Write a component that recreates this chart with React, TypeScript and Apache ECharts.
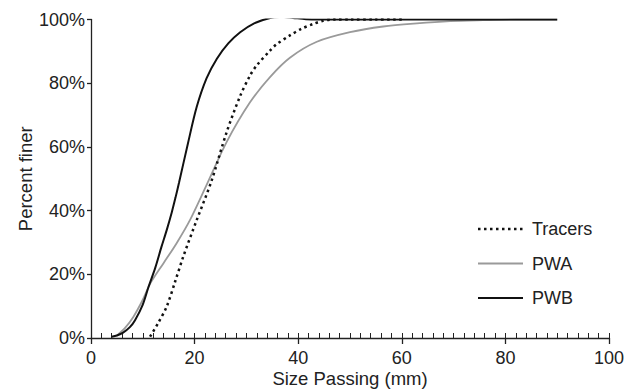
import React, { useEffect, useRef } from "react";
import * as echarts from "echarts";

const xTicks = [0, 20, 40, 60, 80, 100];
const yTickLabels = ["0%", "20%", "40%", "60%", "80%", "100%"];
const legendNames = ["Tracers", "PWA", "PWB"];

const tracersX = [11.4, 13, 14.6, 16.2, 17.8, 20.4, 23.2, 26.2, 28.8, 30.7, 32, 34.6, 35.8, 38.4, 40.5, 42.9, 44.8, 47, 50, 55, 60];
const tracersY = [0.4, 4.8, 9.8, 17.5, 25.5, 37, 49, 64.7, 76, 82.4, 85.6, 90.3, 92.2, 95, 97, 98.6, 99.6, 100, 100, 100, 100];

const pwaX = [5, 6.5, 8.2, 10, 11.4, 14, 16.5, 19.1, 22.3, 26.2, 30.7, 34.6, 38.4, 43.6, 50, 56.4, 62.9, 69.3, 75.7, 82, 90];
const pwaY = [0.8, 3, 6.7, 12, 17, 23.5, 29.7, 37, 48, 61.6, 74, 82, 88, 93, 96, 97.8, 98.8, 99.5, 99.8, 100, 100];

const pwbX = [4, 5, 6.2, 7.5, 8.5, 10, 11.1, 12.4, 13.6, 14.6, 15.6, 16.3, 17, 18.7, 20.4, 22.3, 24.3, 26.5, 28.8, 31.5, 34.6, 37, 39, 41.5, 44, 50, 60, 70, 80, 90];
const pwbY = [0.4, 0.8, 1.7, 3.4, 5.6, 10.5, 16, 22, 28.6, 33.8, 39.5, 44, 48.8, 61, 72.5, 81.5, 87.7, 92.5, 96, 98.8, 100.5, 100.8, 100.5, 100.1, 100, 100, 100, 100, 100, 100];

const zip = (xs: number[], ys: number[]) => xs.map((x, i) => [x, ys[i]]);

const FONT = "'Liberation Sans', Arial, Helvetica, sans-serif";
const TXT = "#222";

export default function App() {
  const ref = useRef<HTMLDivElement>(null);
  useEffect(() => {
    if (!ref.current) return;
    const chart = echarts.init(ref.current, undefined, { renderer: "svg" });
    const legendStyles = [
      { stroke: "#111", lineWidth: 2.5, lineDash: [2.5, 3.5] },
      { stroke: "#9a9a9a", lineWidth: 1.8 },
      { stroke: "#111", lineWidth: 2 },
    ];
    const legendY = [229, 263.5, 298];
    const legendGraphics: any[] = [];
    legendNames.forEach((name, i) => {
      legendGraphics.push({
        type: "line",
        shape: { x1: 478, y1: legendY[i], x2: 523, y2: legendY[i] },
        style: legendStyles[i],
      });
      legendGraphics.push({
        type: "text",
        x: 532,
        y: legendY[i],
        style: { text: name, fill: TXT, font: `18px ${FONT}`, verticalAlign: "middle", align: "left" },
      });
    });
    chart.setOption({
      animation: false,
      backgroundColor: "#ffffff",
      textStyle: { fontFamily: FONT },
      grid: { left: 91, right: 33, top: 19.5, bottom: 51, containLabel: false, outerBoundsMode: "none" },
      graphic: legendGraphics,
      xAxis: [
        {
          type: "value",
          min: xTicks[0],
          max: xTicks[xTicks.length - 1],
          interval: 20,
          position: "bottom",
          name: "Size Passing (mm)",
          nameLocation: "middle",
          nameGap: 31,
          nameMoveOverlap: false,
          nameTextStyle: { fontSize: 18.5, color: TXT, fontFamily: FONT },
          axisLine: { show: true, lineStyle: { color: TXT, width: 1.3 } },
          axisTick: { show: true, inside: false, length: 6, lineStyle: { color: TXT, width: 1.3 } },
          axisLabel: { fontSize: 18, color: TXT, margin: 11, fontFamily: FONT },
          splitLine: { show: false },
        },
        {
          type: "value",
          min: xTicks[0],
          max: xTicks[xTicks.length - 1],
          interval: 2,
          position: "bottom",
          axisLine: { show: false },
          axisTick: { show: true, inside: true, length: 5, lineStyle: { color: TXT, width: 1 } },
          axisLabel: { show: false },
          splitLine: { show: false },
        },
      ],
      yAxis: {
        type: "value",
        min: 0,
        max: 100,
        interval: 20,
        name: "Percent finer",
        nameLocation: "middle",
        nameGap: 56,
        nameMoveOverlap: false,
        nameRotate: 90,
        nameTextStyle: { fontSize: 18.5, color: TXT, fontFamily: FONT },
        axisLine: { show: true, lineStyle: { color: TXT, width: 1.3 } },
        axisTick: { show: true, inside: false, length: 4, lineStyle: { color: TXT, width: 1.3 } },
        axisLabel: {
          fontSize: 18,
          color: TXT,
          margin: 6,
          fontFamily: FONT,
          formatter: (v: number) => yTickLabels[Math.round(v / 20)] ?? v + "%",
        },
        splitLine: { show: false },
      },
      series: [
        {
          name: legendNames[0],
          type: "line",
          xAxisIndex: 0,
          data: zip(tracersX, tracersY),
          smooth: 0.3,
          symbol: "none",
          z: 3,
          lineStyle: { color: "#111", width: 2.5, type: [2.5, 3.5] },
        },
        {
          name: legendNames[1],
          type: "line",
          xAxisIndex: 0,
          data: zip(pwaX, pwaY),
          smooth: 0.3,
          symbol: "none",
          z: 2,
          lineStyle: { color: "#9a9a9a", width: 1.8 },
        },
        {
          name: legendNames[2],
          type: "line",
          xAxisIndex: 0,
          data: zip(pwbX, pwbY),
          smooth: 0.3,
          symbol: "none",
          z: 2,
          lineStyle: { color: "#111", width: 2 },
        },
      ],
    });
    return () => chart.dispose();
  }, []);
  return <div ref={ref} style={{ width: 642, height: 389, position: "absolute", left: 0, top: 0 }} />;
}
